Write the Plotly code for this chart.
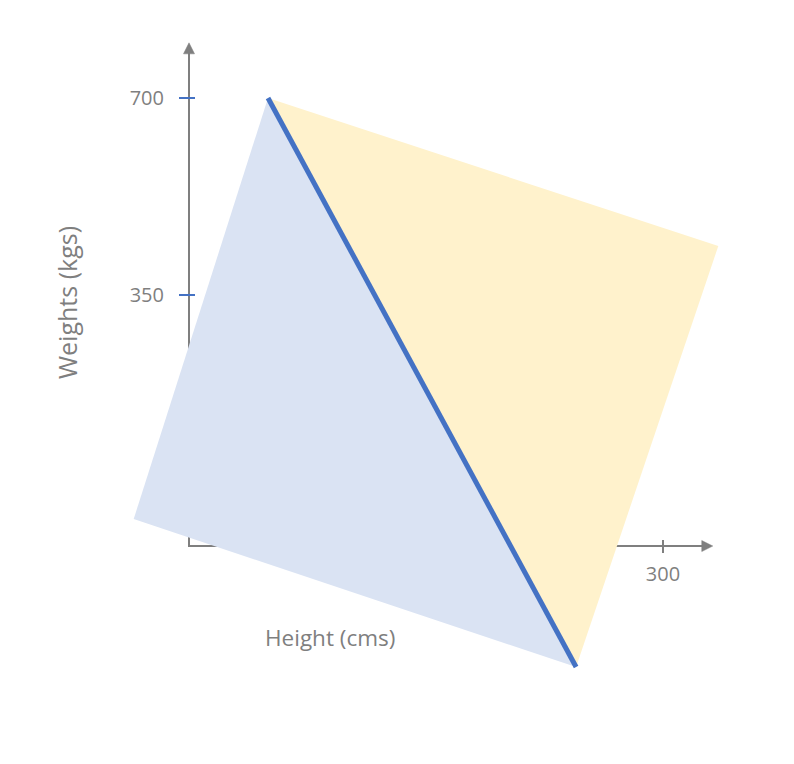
import plotly.graph_objects as go

# ---------------- data ----------------
y_tick_vals = [350, 700]
y_tick_text = ["350", "700"]
x_tick_vals = [300]
x_tick_text = ["300"]

# corners of the tilted square (height cms, weight kgs)
blue_x = [50, 245, -35]      # top, bottom, left
blue_y = [700, -311, -48]
yellow_x = [50, 335, 245]    # top, right, bottom
yellow_y = [700, 437, -311]
diag_x = [50, 245]
diag_y = [700, -311]

x_title = "Height (cms)"
y_title = "Weights (kgs)"

# axis frame (data units)
origin_x, origin_y = 0, -96
x_axis_end = 331.5
y_axis_end = 798

# ---------------- geometry ----------------
W, H = 794, 764
OFF = 8  # page body margin
X0_PX, X_SCALE = 189 - OFF, 474 / 300.0      # px per unit
Y700_PX, Y_SCALE = 98 - OFF, 197 / 350.0     # px per unit
x_range = [(0 - X0_PX) / X_SCALE, (W - X0_PX) / X_SCALE]
y_range = [700 - (H - Y700_PX) / Y_SCALE, 700 + Y700_PX / Y_SCALE]


def dx(p):
    return p / X_SCALE


def dy(p):
    return p / Y_SCALE


GREY = "#7f7f7f"
BLUE = "#4472c4"
FONT = "Open Sans"

fig = go.Figure()

# axis lines (below the fills)
fig.add_trace(go.Scatter(x=[origin_x, origin_x, x_axis_end - dx(8)],
                         y=[y_axis_end - dy(8), origin_y, origin_y],
                         mode="lines", line=dict(color=GREY, width=2),
                         hoverinfo="skip"))

# filled triangles
fig.add_trace(go.Scatter(x=blue_x + [blue_x[0]], y=blue_y + [blue_y[0]],
                         fill="toself", fillcolor="#dae3f3", mode="lines",
                         line=dict(width=0, color="#dae3f3"), hoverinfo="skip"))
fig.add_trace(go.Scatter(x=yellow_x + [yellow_x[0]], y=yellow_y + [yellow_y[0]],
                         fill="toself", fillcolor="#fff2cc", mode="lines",
                         line=dict(width=0, color="#fff2cc"), hoverinfo="skip"))

# diagonal line
fig.add_trace(go.Scatter(x=diag_x, y=diag_y, mode="lines",
                         line=dict(color=BLUE, width=5), hoverinfo="skip"))

# arrow heads
fig.add_trace(go.Scatter(x=[origin_x - dx(5.5), origin_x, origin_x + dx(5.5), origin_x - dx(5.5)],
                         y=[y_axis_end - dy(11), y_axis_end, y_axis_end - dy(11), y_axis_end - dy(11)],
                         fill="toself", fillcolor=GREY, mode="lines",
                         line=dict(color=GREY, width=0.5), hoverinfo="skip"))
fig.add_trace(go.Scatter(x=[x_axis_end - dx(11), x_axis_end, x_axis_end - dx(11), x_axis_end - dx(11)],
                         y=[origin_y + dy(5.5), origin_y, origin_y - dy(5.5), origin_y + dy(5.5)],
                         fill="toself", fillcolor=GREY, mode="lines",
                         line=dict(color=GREY, width=0.5), hoverinfo="skip"))

# tick marks
for v in y_tick_vals:
    fig.add_trace(go.Scatter(x=[origin_x - dx(10), origin_x + dx(6)], y=[v, v],
                             mode="lines", line=dict(color=BLUE, width=2),
                             hoverinfo="skip"))
for v in x_tick_vals:
    fig.add_trace(go.Scatter(x=[v, v], y=[origin_y + dy(6), origin_y - dy(7)],
                             mode="lines", line=dict(color=GREY, width=2),
                             hoverinfo="skip"))

fig.update_layout(
    width=W, height=H,
    margin=dict(l=0, r=0, t=0, b=0),
    paper_bgcolor="white", plot_bgcolor="white",
    showlegend=False,
    font=dict(family=FONT, color=GREY),
    xaxis=dict(range=x_range, domain=[0, 1], anchor="free",
               position=1 - (Y700_PX + (700 - origin_y) * Y_SCALE) / H,
               showgrid=False, zeroline=False, showline=False, ticks="",
               tickmode="array", tickvals=x_tick_vals, ticktext=x_tick_text,
               tickfont=dict(family=FONT, size=20, color=GREY),
               ticklabelstandoff=14, fixedrange=True),
    yaxis=dict(range=y_range, domain=[0, 1], anchor="free",
               position=X0_PX / W,
               showgrid=False, zeroline=False, showline=False, ticks="",
               tickmode="array", tickvals=y_tick_vals, ticktext=y_tick_text,
               tickfont=dict(family=FONT, size=20, color=GREY),
               ticklabelstandoff=25, fixedrange=True),
    annotations=[
        dict(text=x_title, x=(330 - OFF) / W, y=1 - (637 - OFF) / H,
             xref="paper", yref="paper",
             showarrow=False, font=dict(family=FONT, size=22.5, color=GREY),
             xanchor="center", yanchor="middle"),
        dict(text=y_title, x=(67 - OFF) / W, y=1 - (302 - OFF) / H,
             xref="paper", yref="paper",
             showarrow=False, textangle=-90,
             font=dict(family=FONT, size=25, color=GREY),
             xanchor="center", yanchor="middle"),
    ],
)

fig.write_html("out.html")
